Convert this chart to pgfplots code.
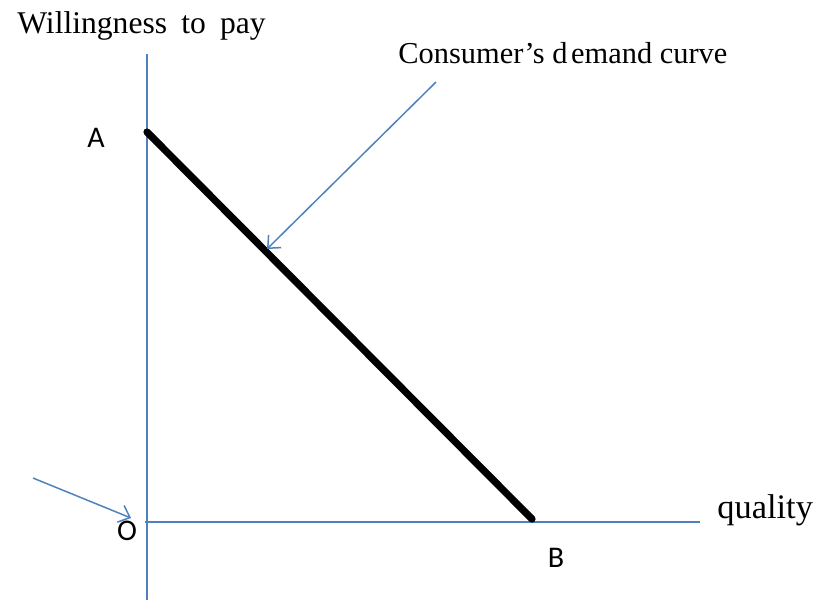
\documentclass[border=0pt]{standalone}
\usepackage{pgfplots}
\pgfplotsset{compat=1.18}
\usepackage{fontspec}
\setmainfont{Liberation Serif}
\newfontfamily\calib{Carlito}
\usetikzlibrary{arrows.meta}
\definecolor{axblue}{RGB}{79,129,189}
\begin{document}
\begin{tikzpicture}
\useasboundingbox (0,0) rectangle (409.5pt,-300.5pt);
\begin{axis}[
  at={(0,0)}, anchor=north west,
  scale only axis, width=409.5pt, height=300.5pt,
  xmin=0, xmax=819, ymin=0, ymax=601, y dir=reverse,
  hide axis, clip=false]
% axes
\addplot[axblue, line width=1pt] coordinates {(147,54) (147,600)};
\addplot[axblue, line width=1pt] coordinates {(145,522) (700,522)};
% demand curve
\addplot[black, line width=3.6pt, line cap=round] coordinates {(147,132) (532,519)};
% arrows
\addplot[axblue, line width=0.75pt, -{Straight Barb[length=5pt,width=9pt]}] coordinates {(436,82) (267,249)};
\addplot[axblue, line width=0.75pt, -{Straight Barb[length=5pt,width=9pt]}] coordinates {(33,478) (131,518)};
% labels
\node[anchor=base west, inner sep=0pt, font=\fontsize{15.8}{17}\selectfont] at (axis cs:17,33) {Willingness\hspace{0.45em}to\hspace{0.45em}pay};
\node[anchor=base west, inner sep=0pt, font=\fontsize{15.2}{16}\selectfont] at (axis cs:398,63) {Consumer’s d\hspace{0.12em}emand curve};
\node[anchor=base west, inner sep=0pt, font=\fontsize{17.2}{18}\selectfont] at (axis cs:717,518) {quality};
\node[anchor=base, inner sep=0pt, font=\calib\fontsize{15}{16}\selectfont] at (axis cs:96,147) {A};
\node[anchor=base, inner sep=0pt, font=\calib\fontsize{15}{16}\selectfont] at (axis cs:127,540) {O};
\node[anchor=base, inner sep=0pt, font=\calib\fontsize{15}{16}\selectfont] at (axis cs:556,567) {B};
\end{axis}
\end{tikzpicture}
\end{document}
